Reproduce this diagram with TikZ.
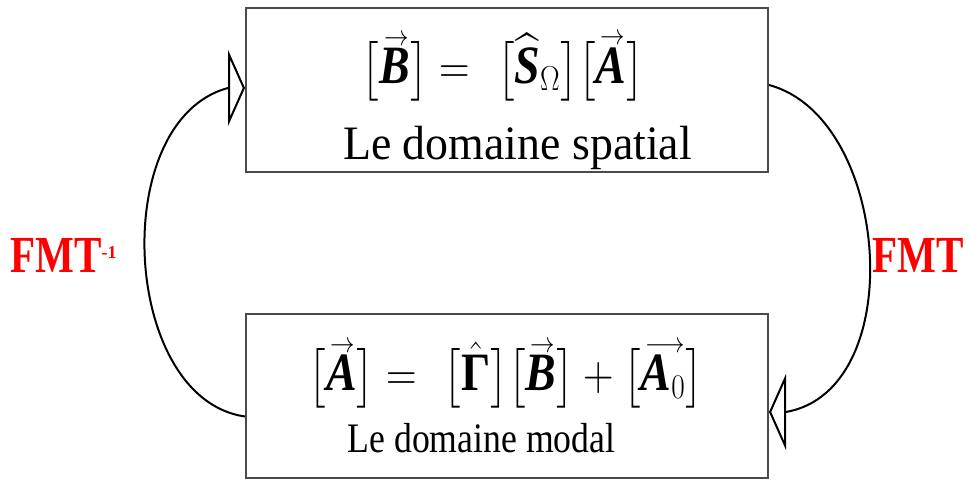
\documentclass[tikz,border=0pt]{standalone}
\usepackage{fontspec}
\setmainfont{Liberation Serif}
\usepackage{amsmath}
\usepackage{graphicx}
\usetikzlibrary{arrows.meta, positioning}
\definecolor{fmtred}{HTML}{FF0000}
\definecolor{boxgrey}{HTML}{4A4A4A}
\newcommand{\arrowover}[2]{\mathord{\vbox{\offinterlineskip
  \halign{\hfil##\hfil\cr\hskip2pt$\scriptscriptstyle#1$\cr
  \noalign{\kern1.5pt}#2\cr}}}}
\newcommand{\bvec}[1]{\arrowover{\rightarrow}{\textbf{\textit{#1}}}}
\newcommand{\lb}{\bigl[}
\newcommand{\rb}{\bigr]}

\begin{document}
\begin{tikzpicture}[x=0.5pt, y=0.5pt,
  domainbox/.style={draw=boxgrey, line width=1pt, minimum width=261pt,
    minimum height=82pt, inner sep=0pt},
  eqn/.style={inner sep=0pt, font=\fontsize{27}{32}\selectfont},
  cyclearc/.style={draw=black, line width=1pt,
    -{Triangle[open, length=8.5pt, width=38pt]}},
  fmtlabel/.style={text=fmtred, font=\fontsize{26}{30}\selectfont\bfseries,
    inner sep=0pt, anchor=base west}]
\useasboundingbox (0,0) rectangle (969,480);
% the two domains
\node[domainbox] (spatial) at (507,390) {};
\node[domainbox] (modal) at (507,83.5) {};
\node[eqn] (eqspatial) at (503,413)
  {\scalebox{0.85}[1]{$\lb\bvec{B}\rb = \hskip 9pt
    \lb\widehat{\textbf{\textit{S}}}_{\Omega}\rb\lb\bvec{A}\rb$}};
\node[anchor=base, inner sep=0pt, font=\fontsize{24}{28}\selectfont]
  (txtspatial) at (517.5,320) {\scalebox{0.955}[1]{Le domaine spatial}};
\node[eqn] (eqmodal) at (506,105)
  {\scalebox{0.85}[1]{$\lb\bvec{A}\rb = \hskip 9pt
    \lb\hat{\text{\textbf{Γ}}}\rb\lb\bvec{B}\rb
    + \lb\arrowover{\longrightarrow}{$\textbf{\textit{A}}_0$}\rb$}};
\node[anchor=base, inner sep=0pt, font=\fontsize{21}{25}\selectfont]
  (txtmodal) at (481.5,27) {\scalebox{0.85}[1]{Le domaine modal}};
% transforms
\draw[cyclearc] ([yshift=-10pt]modal.west)
  .. controls +(172:125) and +(195:125) .. ([shift={(-8.5pt,1pt)}]spatial.west)
  -- ([yshift=1pt]spatial.west);
\draw[cyclearc] ([yshift=2.5pt]spatial.east)
  .. controls +(-15:126) and +(10:126) .. ([shift={(8.5pt,-7.75pt)}]modal.east)
  -- ([yshift=-7.75pt]modal.east);
\node[fmtlabel] (fmtinv) at (10,207)
  {\scalebox{0.79}[1]{FMT}\raisebox{7pt}{\fontsize{9}{9}\selectfont -1}};
\node[fmtlabel] (fmt) at (872,207) {\scalebox{0.79}[1]{FMT}};
\end{tikzpicture}
\end{document}
